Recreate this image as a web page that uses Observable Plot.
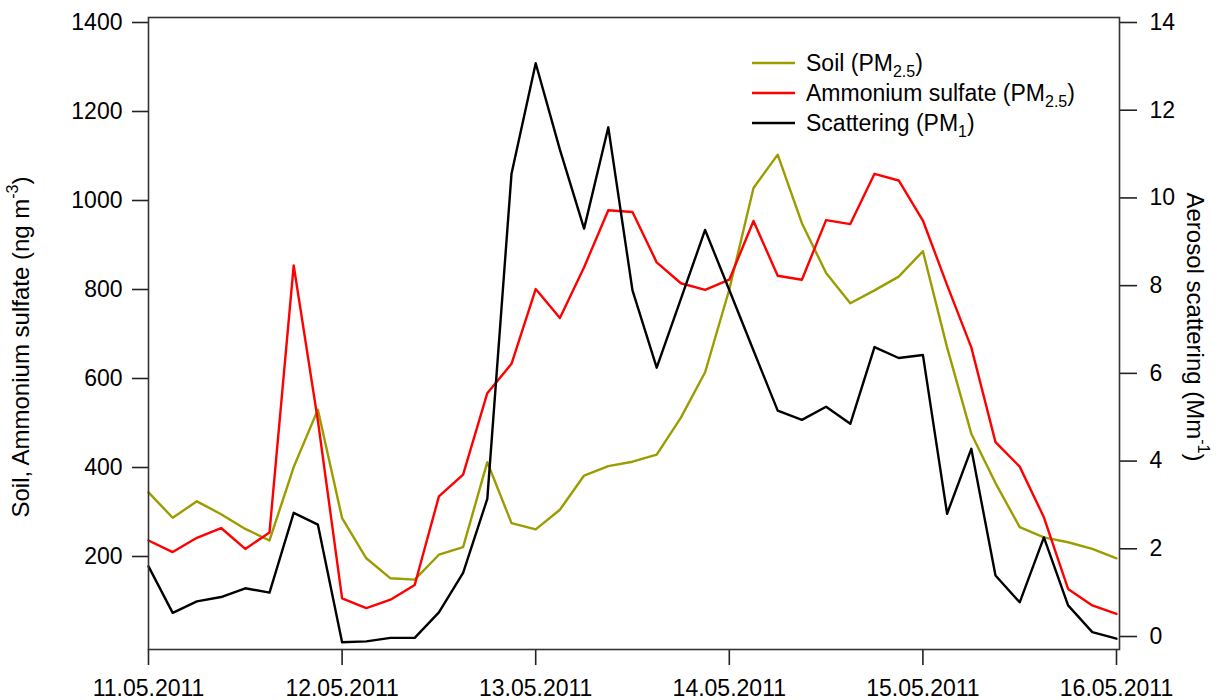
<!DOCTYPE html>
<html>
<head>
<meta charset="utf-8">
<script src="https://cdn.jsdelivr.net/npm/d3@7"></script>
<script src="https://cdn.jsdelivr.net/npm/@observablehq/plot@0.6"></script>
<style>
  body { margin: 0; background: #fff; }
  svg { display: block; }
</style>
</head>
<body>
<div id="chart"></div>
<script>
// ---- data (3-hourly, 11.05.2011 00:00 to 16.05.2011 00:00) ----
const times = [
  "2011-05-11T00:00Z","2011-05-11T03:00Z","2011-05-11T06:00Z","2011-05-11T09:00Z","2011-05-11T12:00Z","2011-05-11T15:00Z","2011-05-11T18:00Z","2011-05-11T21:00Z",
  "2011-05-12T00:00Z","2011-05-12T03:00Z","2011-05-12T06:00Z","2011-05-12T09:00Z","2011-05-12T12:00Z","2011-05-12T15:00Z","2011-05-12T18:00Z","2011-05-12T21:00Z",
  "2011-05-13T00:00Z","2011-05-13T03:00Z","2011-05-13T06:00Z","2011-05-13T09:00Z","2011-05-13T12:00Z","2011-05-13T15:00Z","2011-05-13T18:00Z","2011-05-13T21:00Z",
  "2011-05-14T00:00Z","2011-05-14T03:00Z","2011-05-14T06:00Z","2011-05-14T09:00Z","2011-05-14T12:00Z","2011-05-14T15:00Z","2011-05-14T18:00Z","2011-05-14T21:00Z",
  "2011-05-15T00:00Z","2011-05-15T03:00Z","2011-05-15T06:00Z","2011-05-15T09:00Z","2011-05-15T12:00Z","2011-05-15T15:00Z","2011-05-15T18:00Z","2011-05-15T21:00Z",
  "2011-05-16T00:00Z"
];
// Soil (PM2.5), ng m-3 (left axis)
const soil = [344, 287, 324, 295, 262, 236, 401, 530, 286, 196, 151, 148, 204, 221, 412, 275,
              261, 305, 382, 403, 413, 429, 512, 614, 800, 1028, 1103, 949, 837, 769, 798, 829,
              886, 670, 476, 365, 266, 243, 232, 217, 196];
// Ammonium sulfate (PM2.5), ng m-3 (left axis)
const ammonium = [236, 210, 242, 264, 217, 254, 854, 505, 106, 84, 103, 136, 335, 384, 567, 633,
                  801, 736, 850, 978, 974, 861, 814, 799, 822, 954, 831, 822, 956, 947, 1060, 1045,
                  955, 810, 670, 457, 402, 288, 127, 90, 71];
// Scattering (PM1), Mm-1 (right axis)
const scattering = [1.60, 0.54, 0.80, 0.90, 1.10, 1.00, 2.82, 2.55, -0.13, -0.11, -0.03, -0.03, 0.55, 1.45, 3.14, 10.55,
                    13.07, 11.10, 9.30, 11.61, 7.89, 6.13, 7.70, 9.27, 7.90, 6.52, 5.15, 4.94, 5.24, 4.85, 6.60, 6.35,
                    6.42, 2.80, 4.28, 1.39, 0.78, 2.26, 0.71, 0.10, -0.05];

const xTickDates = ["2011-05-11","2011-05-12","2011-05-13","2011-05-14","2011-05-15","2011-05-16"];
const leftTicks = [200, 400, 600, 800, 1000, 1200, 1400];
const rightTicks = [0, 2, 4, 6, 8, 10, 12, 14];
const seriesLabels = [["Soil (PM", "2.5", ")"], ["Ammonium sulfate (PM", "2.5", ")"], ["Scattering (PM", "1", ")"]];
const seriesColors = ["#9c9c00", "#ff0000", "#000000"];

// right axis (0..14) expressed in left-axis units
const rightToLeft = d3.scaleLinear().domain([0, 14]).range([20.2, 1400]);

const rows = times.map((t, i) => ({
  t: new Date(t), soil: soil[i], amm: ammonium[i], scat: rightToLeft(scattering[i])
}));

const font = "'Liberation Sans', Arial, sans-serif";
const tickFont = 23;

const svg = Plot.plot({
  width: 1224, height: 700,
  marginLeft: 148, marginRight: 105, marginTop: 17, marginBottom: 51,
  insetTop: 5, insetBottom: 4, insetRight: 3,
  style: { fontFamily: font, fontSize: tickFont + "px", color: "#000", background: "#fff", overflow: "visible" },
  x: { type: "utc", domain: [new Date("2011-05-11T00:00Z"), new Date("2011-05-16T00:00Z")] },
  y: { domain: [0, 1400] },
  marks: [
    Plot.axisX(xTickDates.map(d => new Date(d + "T00:00Z")), {
      tickSize: 16, tickPadding: 14, strokeWidth: 1.6, stroke: "#222", fill: "#000",
      tickFormat: d3.utcFormat("%d.%m.%Y"), label: null, fontSize: tickFont
    }),
    Plot.axisY(leftTicks, {
      anchor: "left", tickSize: 16, tickPadding: 10, strokeWidth: 1.6, stroke: "#222", fill: "#000",
      tickFormat: d => String(d), label: null, fontSize: tickFont
    }),
    Plot.axisY(rightTicks.map(v => rightToLeft(v)), {
      anchor: "right", tickSize: 17, tickPadding: 13, strokeWidth: 1.6, stroke: "#222", fill: "#000",
      tickFormat: d => String(Math.round(rightToLeft.invert(d))), label: null, fontSize: tickFont
    }),
    Plot.line(rows, { x: "t", y: "soil", stroke: seriesColors[0], strokeWidth: 2.4 }),
    Plot.line(rows, { x: "t", y: "amm", stroke: seriesColors[1], strokeWidth: 2.4 }),
    Plot.line(rows, { x: "t", y: "scat", stroke: seriesColors[2], strokeWidth: 2.4 }),
    Plot.frame({ stroke: "#333", strokeWidth: 1.6 })
  ]
});

const s = d3.select(svg);

// Legend (inside plot, top right)
const lg = s.append("g").attr("font-family", font).attr("font-size", 23).attr("text-anchor", "start");
seriesLabels.forEach((lab, i) => {
  const y = 63 + i * 30;
  lg.append("line").attr("x1", 752).attr("x2", 795).attr("y1", y).attr("y2", y)
    .attr("stroke", seriesColors[i]).attr("stroke-width", 2.4);
  const t = lg.append("text").attr("x", 806).attr("y", y).attr("dy", "0.35em").attr("fill", "#000")
    .attr("text-anchor", "start");
  t.append("tspan").text(lab[0]);
  t.append("tspan").attr("font-size", 16).attr("dy", 6).text(lab[1]);
  t.append("tspan").attr("dy", -6).text(lab[2]);
});

// Left axis title
const lt = s.append("text").attr("font-family", font).attr("font-size", 24).attr("fill", "#000")
  .attr("text-anchor", "middle")
  .attr("transform", "translate(29,347) rotate(-90)");
lt.append("tspan").text("Soil, Ammonium sulfate (ng m");
lt.append("tspan").attr("font-size", 16).attr("dy", -11).text("-3");
lt.append("tspan").attr("dy", 11).text(")");

// Right axis title
const rt = s.append("text").attr("font-family", font).attr("font-size", 24).attr("fill", "#000")
  .attr("text-anchor", "middle")
  .attr("transform", "translate(1187,327) rotate(90)");
rt.append("tspan").text("Aerosol scattering (Mm");
rt.append("tspan").attr("font-size", 16).attr("dy", -11).text("-1");
rt.append("tspan").attr("dy", 11).text(")");

document.getElementById("chart").appendChild(svg);
</script>
</body>
</html>
